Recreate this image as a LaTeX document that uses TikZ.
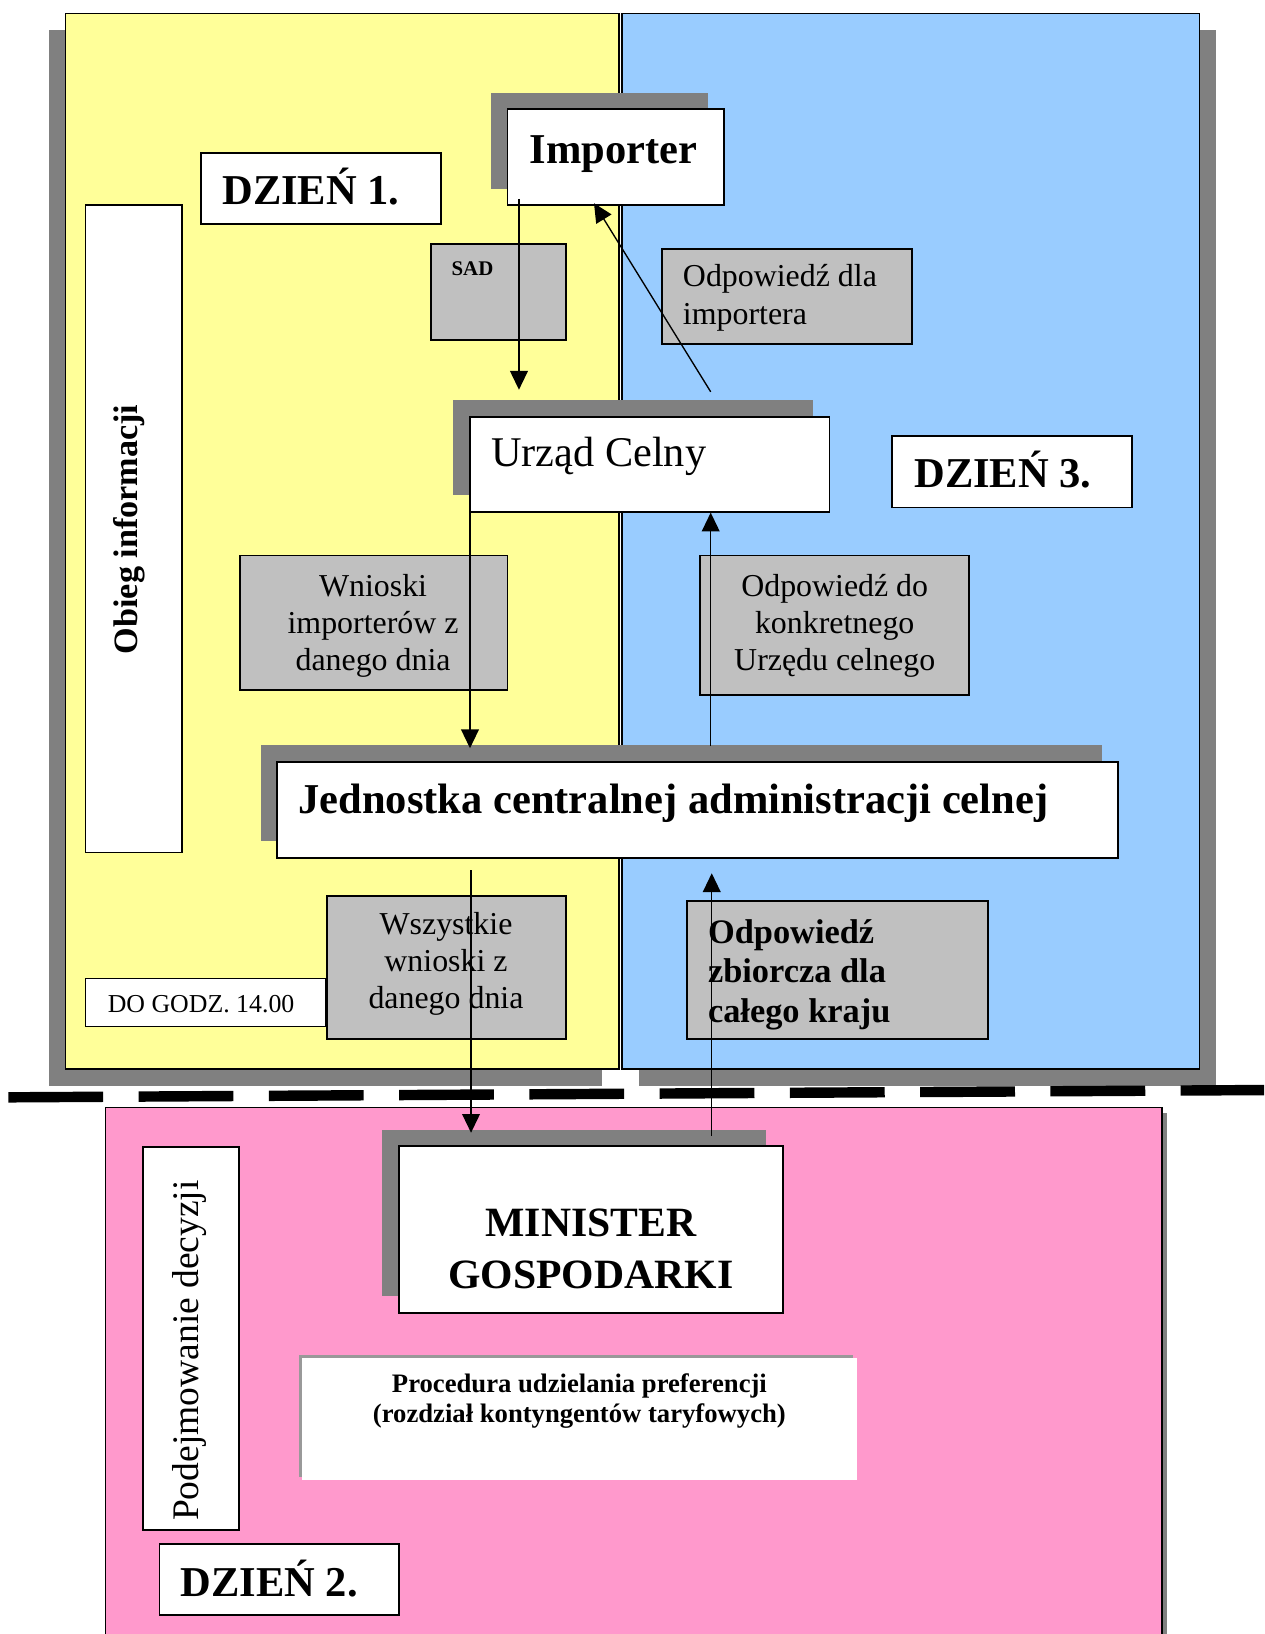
\documentclass[tikz,border=0pt]{standalone}
\usepackage{fontspec}
\setmainfont{Liberation Serif}
\usetikzlibrary{arrows.meta,fit,shadows,calc}
\definecolor{pyellow}{HTML}{FFFF99}
\definecolor{pblue}{HTML}{99CCFF}
\definecolor{ppink}{HTML}{FF99CC}
\definecolor{pgrey}{HTML}{C0C0C0}
\definecolor{pshadow}{HTML}{808080}
\tikzset{
  panel/.style={draw=black, line width=0.7pt, inner sep=0pt},
  wbox/.style={draw=black, fill=white, line width=0.9pt, inner sep=0pt},
  gbox/.style={draw=black, fill=pgrey, line width=0.9pt, inner sep=0pt},
  shUL/.style={general shadow={shadow xshift=-8pt, shadow yshift=8pt, fill=pshadow}},
  shDL/.style={general shadow={shadow xshift=-8pt, shadow yshift=-8pt, fill=pshadow}},
  shDR/.style={general shadow={shadow xshift=8pt, shadow yshift=-8pt, fill=pshadow}},
  shSmall/.style={general shadow={shadow xshift=2.5pt, shadow yshift=-2.5pt, fill=pshadow}},
  shThin/.style={general shadow={shadow xshift=-1.5pt, shadow yshift=1.5pt, fill=pshadow!80}},
  arr/.style={line width=0.65pt, -{Triangle[length=9pt,width=8.5pt]}},
  title/.style={font=\fontsize{20.4}{24}\selectfont\bfseries, inner sep=0pt, anchor=base west},
  gtext/.style={font=\fontsize{15.3}{17.75}\selectfont, align=center, inner sep=0pt, anchor=base},
}
\begin{document}
\begin{tikzpicture}[x=0.5pt, y=-0.5pt]
\useasboundingbox (0,0) rectangle (1213,1568);
\clip (0,0) rectangle (1213,1568);
\fill[white] (0,0) rectangle (1213,1568);

% panels
\node[panel, fill=pyellow, shDL, fit={(63,13) (594,1026)}] (yel) {};
\node[panel, fill=pblue, shDR, fit={(597,13) (1151,1026)}] (blu) {};
\node[panel, fill=ppink, shSmall, fit={(101,1063) (1115,1600)}] (pnk) {};

% separator
\draw[line width=5pt, dash pattern=on 45.5pt off 17pt] (8,1053) -- (1213,1046);

% day 1 / day 3 boxes
\node[wbox, shUL, fit={(487,105) (695,197)}] (imp) {};
\node[wbox, fit={(193,147) (423,215)}] (d1) {};
\node[wbox, fit={(82,197) (175,818)}] (obg) {};
\node[gbox, fit={(414,234) (543,326)}] (sad) {};
\node[gbox, fit={(635,239) (875,330)}] (odi) {};
\node[wbox, shUL, fit={(451,400) (796,491)}] (urz) {};
\node[wbox, fit={(856,418) (1086,487)}] (d3) {};
\node[gbox, fit={(230,533) (487,662)}] (wni) {};
\node[gbox, fit={(672,533) (930,667)}] (odk) {};
\node[wbox, shUL, fit={(266,731) (1073,823)}] (jed) {};
\node[gbox, fit={(314,860) (543,997)}] (wsz) {};
\node[wbox, fit={(82,939) (313,985)}] (dog) {};
\node[gbox, fit={(659,865) (948,997)}] (odz) {};

% day 2 boxes
\node[wbox, shUL, fit={(383,1100) (751,1260)}] (min) {};
\node[fill=white, draw=none, inner sep=0pt, shThin, fit={(290,1303) (822,1420)}] (pro) {};
\node[wbox, fit={(137,1101) (229,1468)}] (pod) {};
\node[wbox, fit={(153,1482) (383,1550)}] (d2) {};

% texts (multi-line nodes: base = last line's baseline)
\node[title] (timp) at (508,157) {Importer};
\node[title] (td1) at (213,196) {DZIEŃ 1.};
\node[title] (td3) at (877,468) {DZIEŃ 3.};
\node[title] (td2) at (173,1532) {DZIEŃ 2.};
\node[font=\fontsize{10}{12}\selectfont\bfseries, anchor=base west, inner sep=0pt] (tsad) at (433,264) {SAD};
\node[font=\fontsize{20.3}{24}\selectfont, anchor=base west, inner sep=0pt] (turz) at (471,448) {Urząd Celny};
\node[font=\fontsize{15.3}{18}\selectfont, align=left, anchor=base west, inner sep=0pt] (todi) at (655,311) {Odpowiedź dla\\importera};
\node[gtext] (twni) at (358,643) {Wnioski\\importerów z\\danego dnia};
\node[gtext] (todk) at (801,643) {Odpowiedź do\\konkretnego\\Urzędu celnego};
\node[title] (tjed) at (286,781) {Jednostka centralnej administracji celnej};
\node[gtext] (twsz) at (428,968) {Wszystkie\\wnioski z\\danego dnia};
\node[font=\fontsize{12.4}{15}\selectfont, anchor=base west, inner sep=0pt] (tdog) at (103,972) {DO GODZ. 14.00};
\node[font=\fontsize{16.5}{19}\selectfont\bfseries, align=left, anchor=base west, inner sep=0pt] (todz) at (679,981) {Odpowiedź\\zbiorcza dla\\całego kraju};
\node[font=\fontsize{20}{24.5}\selectfont\bfseries, align=center, anchor=base, inner sep=0pt] (tmin) at (567,1236) {MINISTER\\GOSPODARKI};
\node[font=\fontsize{12.8}{14.5}\selectfont\bfseries, align=center, anchor=base, inner sep=0pt] (tpro) at (556,1365) {Procedura udzielania preferencji\\(rozdział kontyngentów taryfowych)};
\node[font=\fontsize{16.4}{20}\selectfont\bfseries, rotate=90, inner sep=0pt] (tobg) at (124,508) {Obieg informacji};
\node[font=\fontsize{18}{22}\selectfont, rotate=90, inner sep=0pt] (tpod) at (182,1296) {Podejmowanie decyzji};

% connector ends
\coordinate (e1) at (498,374);
\coordinate (s2) at (682,376);
\coordinate (e3) at (451,718);
\coordinate (s4) at (682,716);
\coordinate (s5) at (452,835);
\coordinate (e5) at (452,1087);
\coordinate (s6) at (683,1090);
\coordinate (e6) at (683,838);

% connectors
\draw[arr] (e1 |- imp.south) ++(0,-7) -- (e1);
\draw[arr] (s2) -- (570,195);
\draw[arr] (e3 |- urz.south) -- (e3);
\draw[arr] (s4) -- (s4 |- urz.south);
\draw[arr] (s5) -- (e5);
\draw[arr] (s6) -- (e6);
\end{tikzpicture}
\end{document}
